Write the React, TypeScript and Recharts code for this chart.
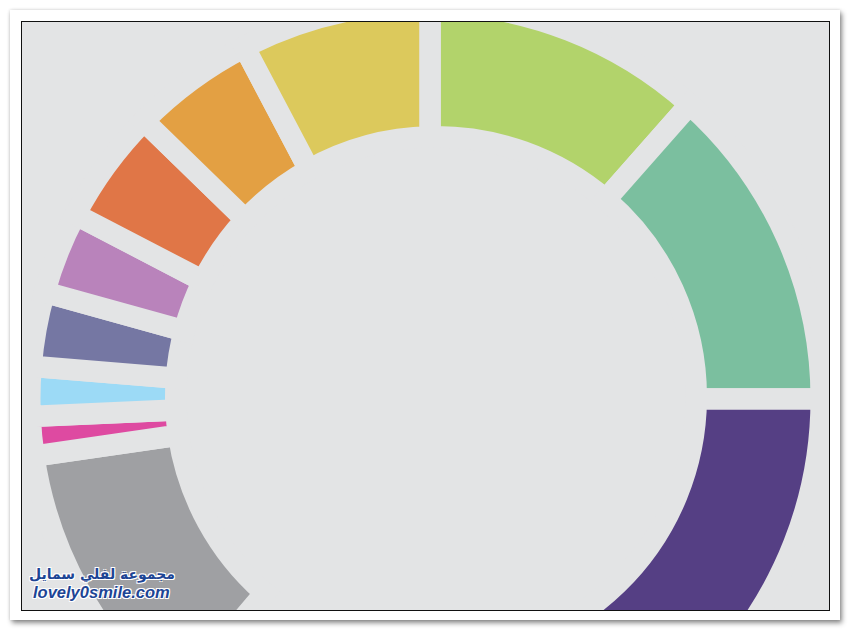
import { Pie, PieChart } from "recharts";

// slices, clockwise from 12 o'clock (values read as degrees of the ring)
const sliceNames = ["Lime", "Teal", "Purple", "Unseen", "Gray", "Pink", "Sky", "Slate", "Lavender", "Orange", "Amber", "Yellow"];
const sliceValues = [41.4, 48.6, 90, 40.4, 41.4, 5.7, 7.2, 10.8, 12.0, 16.7, 18.0, 27.8];

const BG = "#e3e4e5";
const sliceColors = [
    "#b2d36b", "#7bbf9f", "#553f84", BG, "#9fa0a3", "#de4aa1",
    "#9cdaf6", "#7577a3", "#b983bb", "#e07647", "#e3a043", "#dcc95c",
];

const data = sliceNames.map((name, i) => ({ name, value: sliceValues[i] }));

const GAP = 21.5;
// the ring in the picture is not quite concentric: outer edge sits a bit left, hole a bit right
const OUTER = { dx: -4.5, dy: 0, r: 385 + GAP / 2 };
const INNER = { dx: 6, dy: -2, r: 271 - GAP / 2 };

const RAD = Math.PI / 180;

const rayHit = (cx: number, cy: number, deg: number, c: { dx: number; dy: number; r: number }) => {
    const ux = Math.cos(deg * RAD);
    const uy = -Math.sin(deg * RAD);
    const ud = ux * c.dx + uy * c.dy;
    const t = ud + Math.sqrt(ud * ud - (c.dx * c.dx + c.dy * c.dy) + c.r * c.r);
    return [cx + t * ux, cy + t * uy];
};

const renderSlice = (props: any) => {
    const { cx, cy, startAngle, endAngle, index } = props;
    const o1 = rayHit(cx, cy, startAngle, OUTER);
    const o2 = rayHit(cx, cy, endAngle, OUTER);
    const i1 = rayHit(cx, cy, startAngle, INNER);
    const i2 = rayHit(cx, cy, endAngle, INNER);
    const large = Math.abs(startAngle - endAngle) > 180 ? 1 : 0;
    const d =
        `M${o1[0]},${o1[1]} A${OUTER.r},${OUTER.r} 0 ${large} 1 ${o2[0]},${o2[1]} ` +
        `L${i2[0]},${i2[1]} A${INNER.r},${INNER.r} 0 ${large} 0 ${i1[0]},${i1[1]} Z`;
    return <path d={d} fill={sliceColors[index]} stroke={BG} strokeWidth={GAP} />;
};

const outline = "1px 1px 0 #fff, -1px -1px 0 #fff, 1px -1px 0 #fff, -1px 1px 0 #fff";

const App = () => {
    return (
        <div style={{ position: "absolute", left: 0, top: 0, width: 850, height: 632 }}>
            <div
                style={{
                    position: "absolute", left: 10, top: 10, width: 830, height: 610, background: "#fff",
                    boxShadow: "2px 3px 5px rgba(0,0,0,0.45), 0 0 3px rgba(0,0,0,0.15)",
                }}
            />
            <div
                style={{
                    position: "absolute", left: 21, top: 21, width: 809, height: 590, boxSizing: "border-box",
                    border: "1px solid #111", background: BG, overflow: "hidden",
                }}
            >
                <PieChart width={807} height={588} margin={{ top: 0, right: 0, bottom: 0, left: 0 }}>
                    <Pie
                        data={data}
                        dataKey="value"
                        nameKey="name"
                        cx={408}
                        cy={377}
                        innerRadius={INNER.r}
                        outerRadius={OUTER.r}
                        startAngle={90}
                        endAngle={-270}
                        paddingAngle={0}
                        fill="none"
                        stroke="none"
                        label={renderSlice}
                        labelLine={false}
                        isAnimationActive={false}
                    />
                </PieChart>
                <div
                    style={{
                        position: "absolute", left: 3, top: 542, width: 150, textAlign: "right", direction: "rtl",
                        whiteSpace: "nowrap", fontFamily: "'DejaVu Sans', sans-serif", fontWeight: "bold",
                        fontSize: 14, color: "#1d4595", textShadow: outline, lineHeight: "20px",
                    }}
                >
                    مجموعة لفلي سمايل
                </div>
                <div
                    style={{
                        position: "absolute", left: 11, top: 560, whiteSpace: "nowrap",
                        fontFamily: "'Liberation Sans', Arial, sans-serif", fontWeight: "bold", fontStyle: "italic",
                        fontSize: 16.5, color: "#1d4595", textShadow: outline, lineHeight: "20px",
                    }}
                >
                    lovely0smile.com
                </div>
            </div>
        </div>
    );
};

export default App;
